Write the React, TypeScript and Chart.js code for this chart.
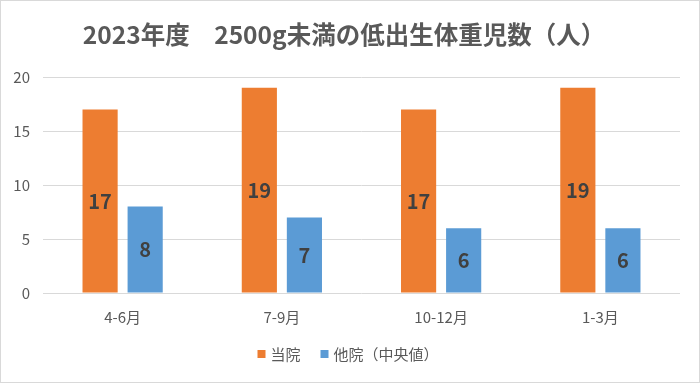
import React, { useEffect, useRef } from "react";
import { Chart, registerables } from "chart.js";

Chart.register(...registerables);

const categories = ["4-6月", "7-9月", "10-12月", "1-3月"];
const ownHospital = [17, 19, 17, 19];
const otherHospitals = [8, 7, 6, 6];
const seriesNames = ["当院", "他院（中央値）"];
const titleText = "2023年度　2500g未満の低出生体重児数（人）";

const FONT = "'Noto Sans CJK JP', 'Noto Sans', sans-serif";

const valueLabels = {
  id: "valueLabels",
  afterDatasetsDraw(chart: any) {
    const ctx = chart.ctx;
    ctx.save();
    ctx.font = `bold 20px ${FONT}`;
    ctx.fillStyle = "#404040";
    ctx.textAlign = "center";
    ctx.textBaseline = "middle";
    chart.data.datasets.forEach((ds: any, i: number) => {
      const meta = chart.getDatasetMeta(i);
      meta.data.forEach((bar: any, j: number) => {
        const y = (bar.y + bar.base) / 2;
        ctx.fillText(String(ds.data[j]), bar.x, y);
      });
    });
    ctx.restore();
  },
};

const frame = {
  id: "frame",
  beforeDraw(chart: any) {
    const ctx = chart.ctx;
    ctx.save();
    ctx.fillStyle = "#ffffff";
    ctx.fillRect(0, 0, chart.width, chart.height);
    ctx.strokeStyle = "#d9d9d9";
    ctx.lineWidth = 1;
    ctx.strokeRect(0.5, 0.5, chart.width - 1, chart.height - 1);
    ctx.fillStyle = "#595959";
    ctx.font = `bold 24.5px ${FONT}`;
    ctx.textAlign = "center";
    ctx.textBaseline = "middle";
    ctx.fillText(titleText, 344, 35);
    ctx.restore();
  },
  afterDraw(chart: any) {
    const ctx = chart.ctx;
    ctx.save();
    ctx.font = `15px ${FONT}`;
    ctx.textBaseline = "middle";
    ctx.textAlign = "left";
    const box = 8;
    const textGap = 5;
    const itemGap = 20;
    const ds = chart.data.datasets;
    const widths = ds.map((d: any) => box + textGap + ctx.measureText(d.label).width);
    const total = widths.reduce((a: number, b: number) => a + b, 0) + itemGap * (ds.length - 1);
    let x = 348 - total / 2;
    const y = 354;
    ds.forEach((d: any, i: number) => {
      ctx.fillStyle = d.backgroundColor;
      ctx.fillRect(x, y - box / 2, box, box);
      ctx.fillStyle = "#595959";
      ctx.fillText(d.label, x + box + textGap, y);
      x += widths[i] + itemGap;
    });
    ctx.restore();
  },
};

export default function App() {
  const ref = useRef<HTMLCanvasElement>(null);
  useEffect(() => {
    document.body.style.margin = "0";
    const chart = new Chart(ref.current!, {
      type: "bar",
      data: {
        labels: categories,
        datasets: [
          {
            label: seriesNames[0],
            data: ownHospital,
            backgroundColor: "#ED7D31",
            categoryPercentage: 0.566,
            barPercentage: 0.78,
          },
          {
            label: seriesNames[1],
            data: otherHospitals,
            backgroundColor: "#5B9BD5",
            categoryPercentage: 0.566,
            barPercentage: 0.78,
          },
        ],
      },
      options: {
        animation: false,
        responsive: false,
        layout: { padding: { left: 0, right: 20, top: 77, bottom: 42 } },
        plugins: {
          title: { display: false },
          legend: { display: false },
          tooltip: { enabled: false },
        },
        scales: {
          x: {
            grid: { display: false, drawTicks: false },
            border: { display: false },
            ticks: {
              color: "#595959",
              font: { family: FONT, size: 15 },
              padding: 15,
            },
          },
          y: {
            min: 0,
            max: 20,
            afterFit: (s: any) => {
              s.width = 43;
            },
            grid: { color: "#d9d9d9", drawTicks: false },
            border: { display: false },
            ticks: {
              stepSize: 5,
              color: "#595959",
              font: { family: FONT, size: 15 },
              padding: 13,
            },
          },
        },
      },
      plugins: [frame, valueLabels],
    });
    return () => chart.destroy();
  }, []);
  return (
    <div style={{ width: 700, height: 383 }}>
      <canvas ref={ref} width={700} height={383} />
    </div>
  );
}
